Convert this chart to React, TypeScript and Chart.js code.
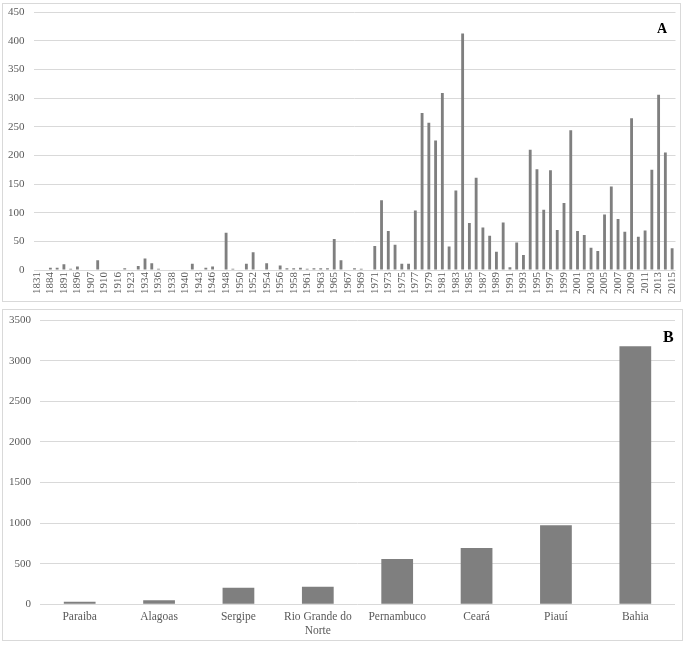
import React, { useEffect, useRef } from 'react';
import { Chart, registerables } from 'chart.js';

Chart.register(...registerables);

// Panel A: records per year
const years = [
  '1831', '1882', '1884', '1889', '1891', '1894', '1896', '1900', '1907', '1909',
  '1910', '1914', '1916', '1920', '1923', '1932', '1934', '1935', '1936', '1937',
  '1938', '1939', '1940', '1942', '1943', '1945', '1946', '1947', '1948', '1949',
  '1950', '1951', '1952', '1953', '1954', '1955', '1956', '1957', '1958', '1960',
  '1961', '1962', '1963', '1964', '1965', '1966', '1967', '1968', '1969', '1970',
  '1971', '1972', '1973', '1974', '1975', '1976', '1977', '1978', '1979', '1980',
  '1981', '1982', '1983', '1984', '1985', '1986', '1987', '1988', '1989', '1990',
  '1991', '1992', '1993', '1994', '1995', '1996', '1997', '1998', '1999', '2000',
  '2001', '2002', '2003', '2004', '2005', '2006', '2007', '2008', '2009', '2010',
  '2011', '2012', '2013', '2014', '2015',
];
const yearCounts = [
  1, 1, 4, 4, 10, 2, 6, 1, 1, 17,
  1, 1, 1, 3, 1, 7, 20, 12, 2, 1,
  1, 1, 1, 11, 1, 4, 6, 1, 65, 2,
  1, 11, 31, 1, 12, 1, 8, 3, 3, 4,
  2, 3, 3, 3, 54, 17, 0, 3, 2, 0,
  42, 122, 68, 44, 11, 11, 104, 274, 257, 226,
  309, 41, 139, 413, 82, 161, 74, 60, 32, 83,
  5, 48, 26, 210, 176, 105, 174, 70, 117, 244,
  68, 61, 39, 33, 97, 146, 89, 67, 265, 58,
  69, 175, 306, 205, 38,
];
const yearAxisMax = 450;
const yearAxisStep = 50;

// Panel B: records per state
const states = [
  'Paraiba', 'Alagoas', 'Sergipe', ['Rio Grande do', 'Norte'],
  'Pernambuco', 'Ceará', 'Piauí', 'Bahia',
];
const stateCounts = [30, 49, 204, 217, 558, 693, 973, 3177];
const stateAxisMax = 3500;
const stateAxisStep = 500;

const FONT = '"Liberation Serif", "Times New Roman", serif';
const BAR = '#7f7f7f';
const GRID = '#d9d9d9';
const TEXT = '#595959';

function YearChart() {
  const ref = useRef<HTMLCanvasElement>(null);
  useEffect(() => {
    const chart = new Chart(ref.current!, {
      type: 'bar',
      data: {
        labels: years,
        datasets: [{
          data: yearCounts,
          backgroundColor: BAR,
          barPercentage: 0.42,
          categoryPercentage: 1,
        }],
      },
      options: {
        responsive: false,
        animation: false,
        layout: { padding: { left: 0, right: 4.5, top: 8.3, bottom: 0 } },
        plugins: { legend: { display: false }, tooltip: { enabled: false } },
        scales: {
          x: {
            grid: { display: false, drawTicks: false },
            border: { display: false },
            ticks: {
              autoSkip: false,
              minRotation: 90,
              maxRotation: 90,
              padding: 2,
              color: TEXT,
              font: { family: FONT, size: 11 },
              callback: function (this: any, val: any, idx: number) {
                return idx % 2 === 0 ? years[idx] : '';
              },
            },
            afterFit: (s: any) => {
              s.height = 31;
              s.paddingLeft = 0;
              s.paddingRight = 0;
            },
          },
          y: {
            min: 0,
            max: yearAxisMax,
            grid: { color: GRID, drawTicks: false },
            border: { display: false },
            ticks: {
              stepSize: yearAxisStep,
              padding: 9,
              color: TEXT,
              font: { family: FONT, size: 11 },
              callback: (v: any) => String(v),
            },
            afterFit: (s: any) => {
              s.width = 30.5;
              s.paddingTop = 0;
              s.paddingBottom = 0;
            },
          },
        },
      },
    });
    return () => chart.destroy();
  }, []);
  return <canvas ref={ref} width={677} height={297} style={{ display: 'block' }} />;
}

function StateChart() {
  const ref = useRef<HTMLCanvasElement>(null);
  useEffect(() => {
    const chart = new Chart(ref.current!, {
      type: 'bar',
      data: {
        labels: states as any,
        datasets: [{
          data: stateCounts,
          backgroundColor: BAR,
          barPercentage: 0.4,
          categoryPercentage: 1,
        }],
      },
      options: {
        responsive: false,
        animation: false,
        layout: { padding: { left: 0, right: 7, top: 10, bottom: 0 } },
        plugins: { legend: { display: false }, tooltip: { enabled: false } },
        scales: {
          x: {
            grid: { display: false, drawTicks: false },
            border: { display: false },
            ticks: {
              autoSkip: false,
              maxRotation: 0,
              minRotation: 0,
              padding: 6,
              color: TEXT,
              font: { family: FONT, size: 11.5 },
            },
            afterFit: (s: any) => {
              s.height = 35.7;
              s.paddingLeft = 0;
              s.paddingRight = 0;
            },
          },
          y: {
            min: 0,
            max: stateAxisMax,
            grid: { color: GRID, drawTicks: false },
            border: { display: false },
            ticks: {
              stepSize: stateAxisStep,
              padding: 9,
              color: TEXT,
              font: { family: FONT, size: 11 },
              callback: (v: any) => String(v),
            },
            afterFit: (s: any) => {
              s.width = 37;
              s.paddingTop = 0;
              s.paddingBottom = 0;
            },
          },
        },
      },
    });
    return () => chart.destroy();
  }, []);
  return <canvas ref={ref} width={679} height={330} style={{ display: 'block' }} />;
}

export default function App() {
  const panel: React.CSSProperties = {
    position: 'absolute',
    border: `1px solid ${GRID}`,
    boxSizing: 'border-box',
    background: '#fff',
  };
  const letter: React.CSSProperties = {
    position: 'absolute',
    fontFamily: FONT,
    fontWeight: 'bold',
    color: '#000',
    lineHeight: 1,
  };
  return (
    <div style={{ position: 'absolute', left: 0, top: 0, width: 688, height: 646, background: '#fff' }}>
      <div style={{ ...panel, left: 2, top: 3, width: 679, height: 299 }}>
        <YearChart />
      </div>
      <div style={{ ...letter, left: 657, top: 22, fontSize: 14 }}>A</div>
      <div style={{ ...panel, left: 2, top: 309, width: 681, height: 332 }}>
        <StateChart />
      </div>
      <div style={{ ...letter, left: 663, top: 329, fontSize: 16 }}>B</div>
    </div>
  );
}
